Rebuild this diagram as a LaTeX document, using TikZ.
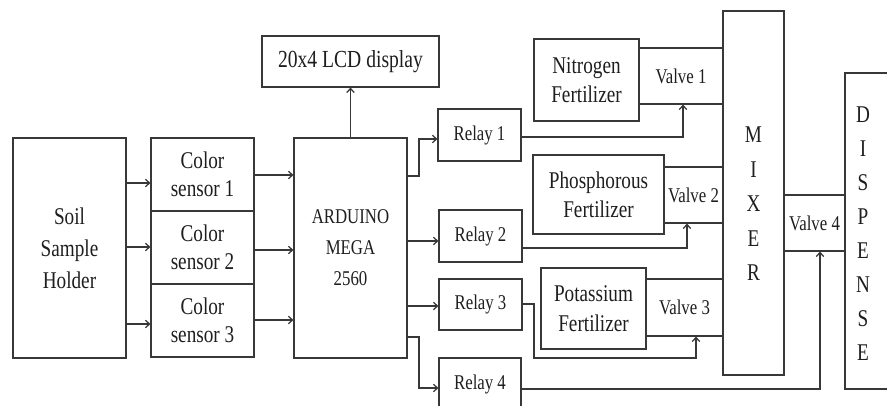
\documentclass[tikz,border=0pt]{standalone}
\usepackage{fontspec}
\setmainfont{Liberation Serif}[FakeStretch=0.8]
\usetikzlibrary{arrows.meta}
\definecolor{ln}{HTML}{383838}
\definecolor{tx}{HTML}{1E1E1E}
\begin{document}
\begin{tikzpicture}[x=1pt,y=-1pt,
  box/.style={draw=ln, line width=1.25pt, rectangle, inner sep=0pt, align=center, text=tx,
              font=\fontsize{24}{29}\selectfont},
  small/.style={font=\fontsize{21}{31}\selectfont},
  txt/.style={inner sep=0pt, align=center, text=tx},
  arr/.style={draw=ln, line width=1.25pt, -{Straight Barb[length=4pt,width=7.5pt]}}
]
\useasboundingbox (0,0) rectangle (887,406);

% left column
\node[box, minimum width=113pt, minimum height=220pt, font=\fontsize{24}{32}\selectfont] (soil) at (69.5,248) {Soil\\Sample\\Holder};
\node[box, minimum width=103pt, minimum height=73pt, font=\fontsize{24}{28}\selectfont] (cs1) at (202.5,174.5) {Color\\sensor 1};
\node[box, minimum width=103pt, minimum height=73pt, font=\fontsize{24}{28}\selectfont] (cs2) at (202.5,247.5) {Color\\sensor 2};
\node[box, minimum width=103pt, minimum height=73pt, font=\fontsize{24}{28}\selectfont] (cs3) at (202.5,320.5) {Color\\sensor 3};

% controller and display
\node[box, small, minimum width=113pt, minimum height=220pt] (ard) at (350.5,248) {ARDUINO\\MEGA\\2560};
\node[box, minimum width=177pt, minimum height=51pt, font=\fontsize{24.5}{29}\selectfont] (lcd) at (350.5,61.5) {20x4 LCD display};

% relays
\node[box, small, minimum width=83pt, minimum height=52pt] (r1) at (479.5,135) {Relay 1};
\node[box, small, minimum width=83pt, minimum height=52pt] (r2) at (480.5,236) {Relay 2};
\node[box, small, minimum width=83pt, minimum height=51pt] (r3) at (480.5,304.5) {Relay 3};
\node[box, small, minimum width=82pt, minimum height=52pt] (r4) at (480,384) {Relay 4};

% fertilizers
\node[box, minimum width=105pt, minimum height=82pt] (nit) at (586.5,80) {Nitrogen\\Fertilizer};
\node[box, minimum width=131pt, minimum height=79pt] (pho) at (598.5,194.5) {Phosphorous\\Fertilizer};
\node[box, minimum width=105pt, minimum height=81pt, font=\fontsize{24}{30}\selectfont] (pot) at (593.5,308.5) {Potassium\\Fertilizer};

% valves
\node[box, small, minimum width=84pt, minimum height=56pt] (v1) at (681,76) {Valve 1};
\node[box, small, minimum width=59pt, minimum height=56pt] (v2) at (693.5,195) {Valve 2};
\node[box, small, minimum width=77pt, minimum height=57pt] (v3) at (684.5,307.5) {Valve 3};
\node[box, small, minimum width=61pt, minimum height=56pt] (v4) at (814.5,223) {Valve 4};

% mixer and dispenser
\node[box, minimum width=61pt, minimum height=364pt] (mix) at (753.5,193) {};
\node[txt, font=\fontsize{24}{34.5}\selectfont] (mixt) at (753.5,204) {M\\I\\X\\E\\R};
\node[box, minimum width=60pt, minimum height=316pt] (disp) at (875,231) {};
\node[txt, font=\fontsize{24}{34}\selectfont] (dispt) at (863,234) {D\\I\\S\\P\\E\\N\\S\\E};

% connectors: holder -> sensors
\draw[arr] (soil.east |- 0,183) -- (cs1.west |- 0,183);
\draw[arr] (soil.east |- 0,247) -- (cs2.west |- 0,247);
\draw[arr] (soil.east |- 0,324) -- (cs3.west |- 0,324);
% sensors -> arduino
\draw[arr] (cs1.east |- 0,175) -- (ard.west |- 0,175);
\draw[arr] (cs2.east |- 0,250) -- (ard.west |- 0,250);
\draw[arr] (cs3.east |- 0,320) -- (ard.west |- 0,320);
% arduino -> lcd
\draw[arr] (ard.north) -- (lcd.south);
% arduino -> relays
\draw[arr] (ard.east |- 0,176) -- (419,176) -- (419,139) -- (r1.west |- 0,139);
\draw[arr] (ard.east |- 0,241) -- (r2.west |- 0,241);
\draw[arr] (ard.east |- 0,306) -- (r3.west |- 0,306);
\draw[arr] (ard.east |- 0,337) -- (419,337) -- (419,388) -- (r4.west |- 0,388);
% relays -> valves
\draw[arr] (r1.east |- 0,137) -| (v1.south -| 683,0);
\draw[arr] (r2.east |- 0,248) -| (v2.south -| 687,0);
\draw[arr] (r3.east |- 0,304) -- (534,304) -- (534,358) -| (v3.south -| 696,0);
\draw[arr] (r4.east |- 0,389) -| (v4.south -| 820,0);
\end{tikzpicture}
\end{document}
